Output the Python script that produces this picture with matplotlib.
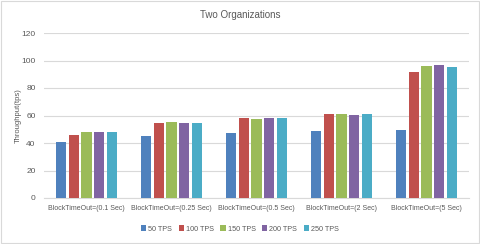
import matplotlib.pyplot as plt
import numpy as np

categories = ['BlockTimeOut=(0.1 Sec)', 'BlockTimeOut=(0.25 Sec)', 'BlockTimeOut=(0.5 Sec)',
              'BlockTimeOut=(2 Sec)', 'BlockTimeOut=(5 Sec)']
series_names = ['50 TPS', '100 TPS', '150 TPS', '200 TPS', '250 TPS']
tps_50 = [40.7, 45.1, 47.5, 48.7, 49.4]
tps_100 = [45.8, 54.5, 58.4, 61.1, 91.6]
tps_150 = [47.7, 55.6, 57.7, 61.1, 95.7]
tps_200 = [47.8, 54.8, 58.4, 60.6, 96.7]
tps_250 = [47.8, 54.5, 57.9, 61.1, 95.0]
colors = ['#4F81BD', '#C0504D', '#9BBB59', '#8064A2', '#4BACC6']

plt.rcParams['font.family'] = ['Liberation Sans', 'DejaVu Sans']
fig = plt.figure(figsize=(4.8, 2.44), dpi=100)
ax = fig.add_axes([44 / 480, 1 - 198 / 244, 425 / 480, 165 / 244])

x = np.arange(len(categories))
for i, (vals, name) in enumerate(zip([tps_50, tps_100, tps_150, tps_200, tps_250], series_names)):
    ax.bar(x + (i - 2) * 0.15, vals, width=0.12, color=colors[i], label=name, zorder=3)

ax.set_xlim(-0.5, len(categories) - 0.5)
ax.set_ylim(0, 120)
ax.set_yticks(range(0, 121, 20))
ax.set_xticks(x)
ax.set_xticklabels(categories, fontsize=5, color='#595959')
ax.tick_params(axis='y', labelsize=6, colors='#595959', length=0, pad=6)
ax.tick_params(axis='x', length=0, pad=5)
ax.grid(axis='y', color='#D9D9D9', linewidth=0.8, zorder=0)
for s in ['top', 'right', 'left']:
    ax.spines[s].set_visible(False)
ax.spines['bottom'].set_color('#D9D9D9')
ax.set_ylabel('Throughput(tps)', fontsize=5.5, color='#595959', labelpad=0)
fig.text(0.5, 1 - 15 / 244, 'Two Organizations', ha='center', va='center', fontsize=7, color='#595959')

fig.legend(loc='center', bbox_to_anchor=(0.5, 1 - 229 / 244), ncol=5, frameon=False,
           fontsize=5.2, handlelength=0.7, handleheight=0.7, handletextpad=0.3,
           columnspacing=0.9, labelcolor='#595959')

fig.patches.append(plt.Rectangle((0.002, 0.004), 0.996, 0.992, transform=fig.transFigure,
                                 fill=False, edgecolor='#D9D9D9', linewidth=0.8))
fig.savefig('out.png', dpi=100)
